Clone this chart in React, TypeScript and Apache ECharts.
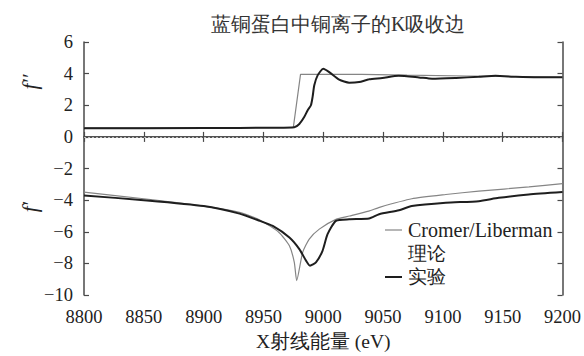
import React, { useEffect, useRef } from "react";
import * as echarts from "echarts";

const titleText = "蓝铜蛋白中铜离子的K吸收边";
const xName = "X射线能量 (eV)";
const legendTheory = ["Cromer/Liberman", "理论"];
const legendExp = "实验";

// f'' theory (Cromer/Liberman)
const theoryFppE = [8800, 8900, 8975, 8981, 9032, 9070, 9120, 9160, 9200];
const theoryFpp = [0.57, 0.57, 0.6, 3.95, 3.95, 3.9, 3.85, 3.82, 3.77];

// f'' experiment
const expFppE = [8800, 8900, 8960, 8975.8, 8980, 8984.2, 8987, 8989.7, 8991.1, 8992.5, 8995.3, 9000, 9005, 9013.3, 9021.7, 9030, 9038.3, 9049.4, 9063, 9080, 9091, 9111, 9130, 9144, 9161, 9180, 9200];
const expFpp = [0.55, 0.56, 0.58, 0.61, 0.82, 1.27, 1.69, 2.0, 2.53, 3.26, 3.89, 4.31, 4.1, 3.62, 3.43, 3.47, 3.64, 3.72, 3.86, 3.76, 3.68, 3.73, 3.8, 3.86, 3.8, 3.77, 3.77];

// f' theory
const theoryFpE = [8800, 8850, 8900, 8930, 8947, 8963, 8971.7, 8975.8, 8977.8, 8982.8, 8988.3, 8996.7, 9010.6, 9022, 9038, 9047, 9074, 9102.5, 9130, 9172, 9200];
const theoryFp = [-3.49, -3.91, -4.37, -4.77, -5.25, -6.04, -6.88, -7.93, -9.08, -7.3, -6.46, -5.83, -5.21, -5.0, -4.69, -4.45, -3.91, -3.64, -3.43, -3.16, -2.95];

// f' experiment
const expFpE = [8800, 8850, 8900, 8930, 8947, 8957.8, 8971.7, 8980, 8985.6, 8988.9, 8993.9, 8999.4, 9003.6, 9010.6, 9021.7, 9038.3, 9046.7, 9063.3, 9074, 9102.5, 9130, 9146.7, 9171.7, 9200];
const expFp = [-3.7, -4.0, -4.37, -4.85, -5.31, -5.63, -6.36, -7.09, -7.82, -8.14, -7.93, -7.2, -6.15, -5.31, -5.21, -5.16, -4.89, -4.64, -4.37, -4.16, -4.06, -3.85, -3.64, -3.49];

const xMin = 8800, xMax = 9200, xStep = 50;
const yMin = -10, yMax = 6, yStep = 2;

const zip = (xs: number[], ys: number[]) => xs.map((x, i) => [x, ys[i]]);

const SERIF = "Liberation Serif";
const GRAY = "#858585";
const BLACK = "#1e1e1e";
const AXIS = "#4a4a4a";

export default function App() {
  const ref = useRef<HTMLDivElement>(null);
  useEffect(() => {
    document.body.style.margin = "0";
    if (!ref.current) return;
    const chart = echarts.init(ref.current, null, { renderer: "svg" });
    const minus = (v: number) => String(v).replace("-", "\u2212");
    const axisCommon = {
      type: "value" as const,
      axisLine: { show: true, lineStyle: { color: AXIS, width: 1.5 } },
      axisTick: { show: true, inside: true, length: 5, lineStyle: { color: AXIS, width: 1.2 } },
      splitLine: { show: false },
    };
    chart.setOption({
      animation: false,
      backgroundColor: "#fff",
      textStyle: { fontFamily: SERIF },
      title: {
        text: titleText,
        left: 206,
        top: 9,
        textStyle: { fontFamily: SERIF, fontSize: 20, fontWeight: "normal", color: "#333" },
      },
      grid: { left: 84, right: 20, top: 42, bottom: 59, containLabel: false },
      xAxis: [
        {
          ...axisCommon,
          min: xMin, max: xMax, interval: xStep,
          position: "bottom",
          name: xName,
          nameLocation: "middle",
          nameGap: 33,
          nameTextStyle: { fontFamily: SERIF, fontSize: 19.5, color: "#222" },
          axisLabel: { fontFamily: SERIF, fontSize: 18.5, color: "#222", margin: 12, formatter: (v: number) => String(v) },
        },
        {
          ...axisCommon,
          min: xMin, max: xMax, interval: xStep,
          position: "top",
          axisLabel: { show: false },
        },
      ],
      yAxis: [
        {
          ...axisCommon,
          min: yMin, max: yMax, interval: yStep,
          position: "left",
          axisLabel: { fontFamily: SERIF, fontSize: 18.5, color: "#222", margin: 11, formatter: minus },
        },
        {
          ...axisCommon,
          min: yMin, max: yMax, interval: yStep,
          position: "right",
          axisLabel: { show: false },
        },
      ],
      series: [
        {
          type: "line", name: "theory f''", data: zip(theoryFppE, theoryFpp),
          showSymbol: false, lineStyle: { color: GRAY, width: 1.2 }, z: 2,
        },
        {
          type: "line", name: "exp f''", data: zip(expFppE, expFpp), smooth: 0.2,
          showSymbol: false, lineStyle: { color: BLACK, width: 2 }, z: 3,
          markLine: {
            silent: true, symbol: "none", label: { show: false },
            lineStyle: { color: "#bdbdbd", type: [2, 2], width: 1 },
            data: [{ yAxis: 0 }],
          },
        },
        {
          type: "line", name: "theory f'", data: zip(theoryFpE, theoryFp), smooth: 0.2,
          showSymbol: false, lineStyle: { color: GRAY, width: 1.2 }, z: 2,
        },
        {
          type: "line", name: "exp f'", data: zip(expFpE, expFp), smooth: 0.2,
          showSymbol: false, lineStyle: { color: BLACK, width: 2 }, z: 3,
        },
      ],
      graphic: [
        { type: "text", x: 30, y: 82, rotation: Math.PI / 2, style: { text: "f\u2032\u2032", fontFamily: SERIF, fontStyle: "italic", fontSize: 21, fill: "#222", align: "center", verticalAlign: "middle" } },
        { type: "text", x: 30, y: 207, rotation: Math.PI / 2, style: { text: "f\u2032", fontFamily: SERIF, fontStyle: "italic", fontSize: 21, fill: "#222", align: "center", verticalAlign: "middle" } },
        { type: "line", shape: { x1: 385, y1: 230, x2: 402, y2: 230 }, style: { stroke: GRAY, lineWidth: 1.2 } },
        { type: "text", x: 408, y: 230, style: { text: legendTheory[0], fontFamily: SERIF, fontSize: 20, fill: "#222", verticalAlign: "middle" } },
        { type: "text", x: 408, y: 254, style: { text: legendTheory[1], fontFamily: SERIF, fontSize: 18.5, fill: "#222", verticalAlign: "middle" } },
        { type: "line", shape: { x1: 385, y1: 277, x2: 402, y2: 277 }, style: { stroke: BLACK, lineWidth: 2 } },
        { type: "text", x: 408, y: 277, style: { text: legendExp, fontFamily: SERIF, fontSize: 18.5, fill: "#222", verticalAlign: "middle" } },
      ],
    });
    return () => chart.dispose();
  }, []);
  return <div ref={ref} style={{ width: 584, height: 356 }} />;
}
